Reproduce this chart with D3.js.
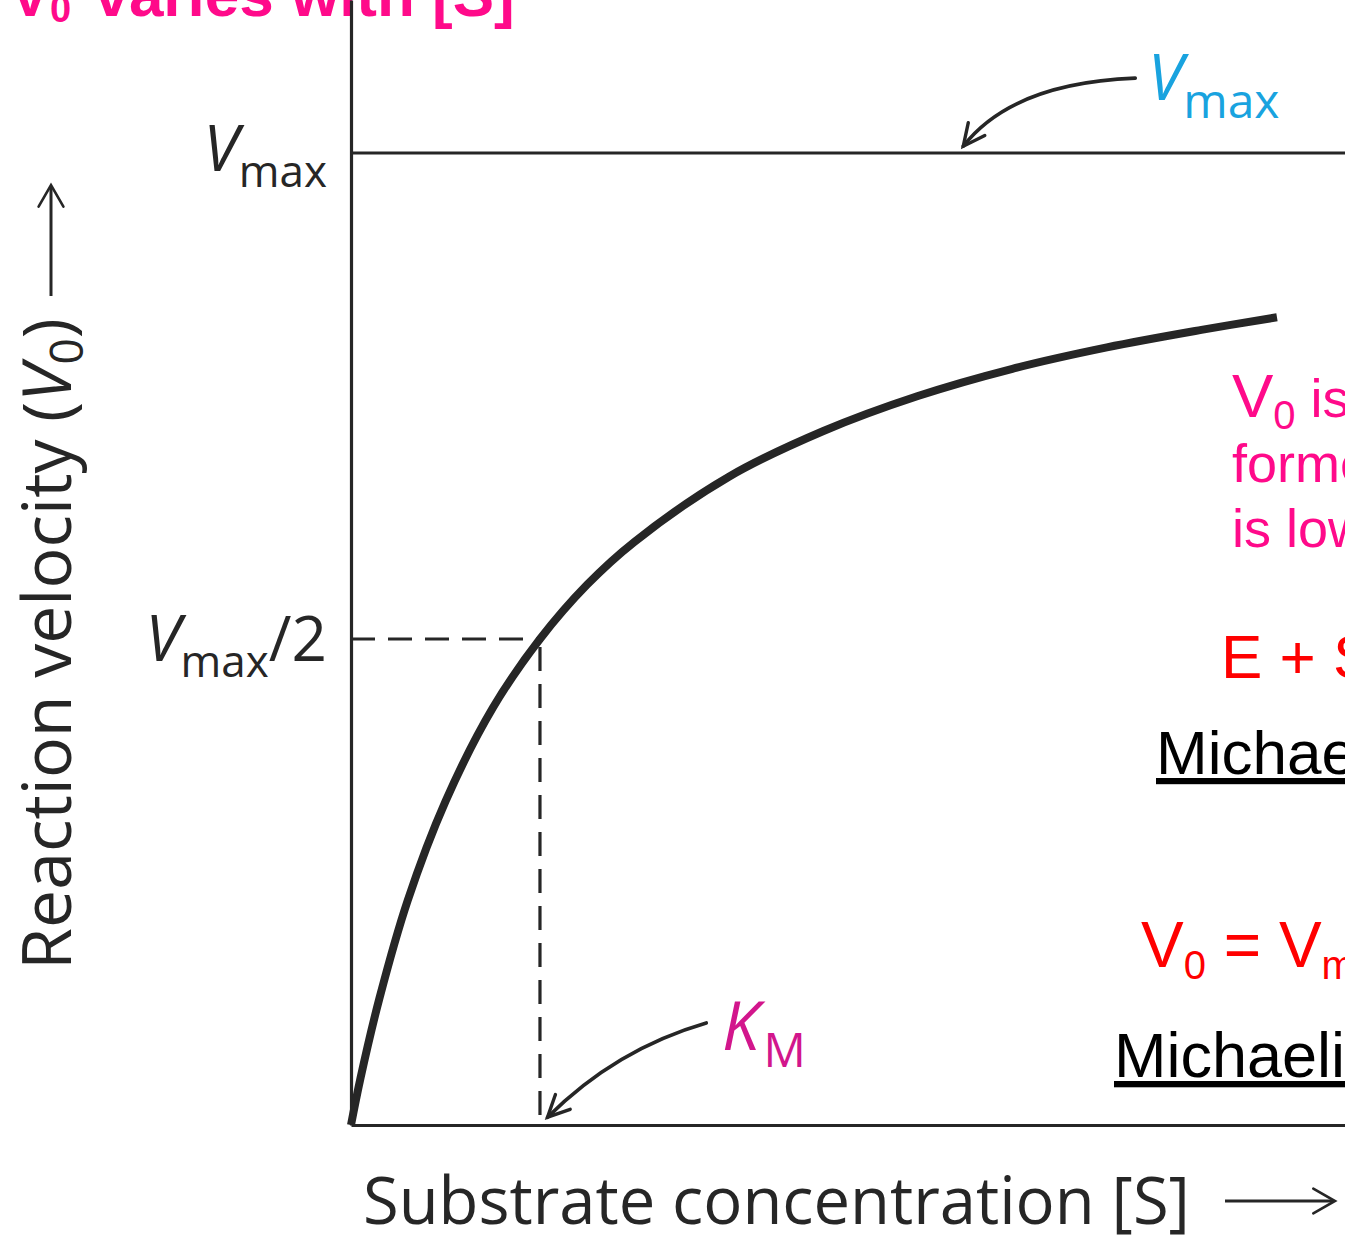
<!DOCTYPE html>
<html>
<head>
<meta charset="utf-8">
<script src="https://cdn.jsdelivr.net/npm/d3@7"></script>
<style>
  html, body { margin: 0; padding: 0; background: #ffffff; }
  svg { display: block; }
</style>
</head>
<body>
<svg id="chart" width="1345" height="1239"></svg>
<script>
// ---------------- data ----------------
// substrate concentration in units of KM, velocity in units of Vmax
const substrate = [0, 0.05, 0.15, 0.3, 0.5, 0.75, 1.0, 1.25, 1.5, 2.0, 2.5, 3.0, 3.5, 4.0, 4.5, 4.9];
const velocity  = [0, 0.048, 0.13, 0.231, 0.333, 0.429, 0.50, 0.556, 0.60, 0.667, 0.714, 0.75, 0.778, 0.80, 0.818, 0.831];
const VMAX = 1.0;
const KM = 1.0;
const S_MAX = 5.26;          // right end of the visible [S] axis
const yTickValues = [VMAX, VMAX / 2];
const yTickLabels = ["Vmax", "Vmax/2"];
// annotation arrows in data units: [start, control, tip]
const vmaxArrow = [[4.15, 1.077], [3.50, 1.072], [3.24, 1.007]];
const kmArrow   = [[1.88, 0.105], [1.40, 0.078], [1.04, 0.008]];

const titleText = "V0 varies with [S]";
const xLabelText = "Substrate concentration [S]";
const yLabelText = "Reaction velocity (V0)";

// ---------------- setup ----------------
const W = 1345, H = 1239;
const svg = d3.select("#chart");
const HUMAN = "'Open Sans', 'Noto Sans', sans-serif";
const ARIAL = "'Liberation Sans', Arial, sans-serif";
const INK = "#262626";
const PINK = "#ff0a8a";
const MAGENTA = "#d2168c";
const BLUE = "#19a3df";
const RED = "#ff0000";

const x = d3.scaleLinear().domain([0, S_MAX]).range([351, W]);
const y = d3.scaleLinear().domain([0, VMAX]).range([1125, 153]);
const yTop = y.invert(0);

// rich text helper: parts = [{t, size, off, italic, bold, fill}]
function richText(parent, opts, parts) {
  const t = parent.append("text")
    .attr("x", opts.x).attr("y", opts.y)
    .attr("text-anchor", opts.anchor || "start")
    .attr("font-family", opts.family || HUMAN)
    .attr("fill", opts.fill || INK);
  if (opts.transform) t.attr("transform", opts.transform);
  if (opts.decoration) t.attr("text-decoration", opts.decoration);
  let cur = 0;
  parts.forEach(p => {
    const off = p.off || 0;
    const ts = t.append("tspan")
      .attr("font-size", p.size)
      .attr("dy", off - cur)
      .text(p.t);
    if (p.dx) ts.attr("dx", p.dx);
    if (p.italic) ts.attr("font-style", "italic");
    if (p.bold) ts.attr("font-weight", "bold");
    if (p.fill) ts.attr("fill", p.fill);
    cur = off;
  });
  return t;
}

function fitWidth(textSel, target) {
  const len = textSel.node().getComputedTextLength();
  const k = target / len;
  textSel.selectAll("tspan").each(function () {
    const s = d3.select(this);
    s.attr("font-size", +s.attr("font-size") * k);
    s.attr("dy", +s.attr("dy") * k);
  });
}

function arrowHead(g, tip, from, len, half, color, width) {
  const ang = Math.atan2(from[1] - tip[1], from[0] - tip[0]);
  const a1 = ang + half, a2 = ang - half;
  const p = d3.path();
  p.moveTo(tip[0] + len * Math.cos(a1), tip[1] + len * Math.sin(a1));
  p.lineTo(tip[0], tip[1]);
  p.lineTo(tip[0] + len * Math.cos(a2), tip[1] + len * Math.sin(a2));
  g.append("path").attr("d", p.toString()).attr("fill", "none")
    .attr("stroke", color).attr("stroke-width", width)
    .attr("stroke-linejoin", "miter").attr("stroke-linecap", "round");
}

function curvedArrow(g, pts) {
  const [s, c, e] = pts.map(d => [x(d[0]), y(d[1])]);
  const p = d3.path();
  p.moveTo(s[0], s[1]);
  p.quadraticCurveTo(c[0], c[1], e[0], e[1]);
  g.append("path").attr("d", p.toString()).attr("fill", "none")
    .attr("stroke", INK).attr("stroke-width", 3.6).attr("stroke-linecap", "round");
  arrowHead(g, e, c, 24, 0.45, INK, 3.4);
}

// ---------------- title (cut off at top) ----------------
richText(svg, { x: 10, y: 16, family: ARIAL, fill: PINK }, [
  { t: "V", size: 60, bold: true },
  { t: "0", size: 38, bold: true, off: 6 },
  { t: " varies with [S]", size: 62, bold: true, off: 0, dx: 6 }
]);

// ---------------- axes ----------------
svg.append("g")
  .attr("transform", `translate(0,${y(0)})`)
  .call(d3.axisBottom(x).tickValues([]).tickSizeOuter(0))
  .call(g => g.select(".domain").attr("stroke", INK).attr("stroke-width", 3.2));

const yAxisScale = y.copy().domain([0, yTop]).range([y(0), 0]);
svg.append("g")
  .attr("transform", `translate(${x(0)},0)`)
  .call(d3.axisLeft(yAxisScale).tickValues([]).tickSizeOuter(0))
  .call(g => g.select(".domain").attr("stroke", INK).attr("stroke-width", 3.2));

// Vmax asymptote
svg.append("line")
  .attr("x1", x(0)).attr("x2", x(S_MAX))
  .attr("y1", y(VMAX)).attr("y2", y(VMAX))
  .attr("stroke", INK).attr("stroke-width", 3.2);

// dashed guides at Vmax/2 and KM
svg.append("line")
  .attr("x1", x(0)).attr("x2", x(KM))
  .attr("y1", y(VMAX / 2)).attr("y2", y(VMAX / 2))
  .attr("stroke", INK).attr("stroke-width", 3.2)
  .attr("stroke-dasharray", "24,13");
svg.append("line")
  .attr("x1", x(KM)).attr("x2", x(KM))
  .attr("y1", y(VMAX / 2) + 8).attr("y2", y(0))
  .attr("stroke", INK).attr("stroke-width", 3.2)
  .attr("stroke-dasharray", "24,13");

// ---------------- curve ----------------
const pts = substrate.map((s, i) => [s, velocity[i]]);
svg.append("path")
  .datum(pts)
  .attr("d", d3.line().x(d => x(d[0])).y(d => y(d[1])).curve(d3.curveCatmullRom.alpha(0.5)))
  .attr("fill", "none")
  .attr("stroke", INK)
  .attr("stroke-width", 8)
  .attr("stroke-linecap", "butt");

// ---------------- y tick labels ----------------
yTickValues.forEach((v, i) => {
  const lab = yTickLabels[i];
  const parts = [
    { t: "V", size: 64, italic: true },
    { t: "max", size: 44, off: 16 }
  ];
  if (lab.endsWith("/2")) parts.push({ t: "/2", size: 62, off: 0 });
  richText(svg, { x: x(0) - 24, y: y(v) + 18 + (i === 1 ? 4 : 0), anchor: "end" }, parts);
});

// ---------------- axis labels ----------------
const xl = richText(svg, { x: 363, y: 1224 }, [{ t: xLabelText, size: 66 }]);
fitWidth(xl, 827);
(function () {
  const g = svg.append("g");
  g.append("line").attr("x1", 1225).attr("x2", 1334).attr("y1", 1201).attr("y2", 1201)
    .attr("stroke", INK).attr("stroke-width", 3);
  arrowHead(g, [1335, 1201], [1300, 1201], 25, 0.52, INK, 2.6);
})();

const yl = richText(svg, { x: 0, y: 0, transform: "translate(71,970) rotate(-90)" }, [
  { t: "Reaction velocity (", size: 68 },
  { t: "V", size: 68, italic: true },
  { t: "0", size: 46, off: 12 },
  { t: ")", size: 68, off: 0 }
]);
fitWidth(yl, 652);
(function () {
  const g = svg.append("g");
  g.append("line").attr("x1", 51).attr("x2", 51).attr("y1", 296).attr("y2", 186)
    .attr("stroke", INK).attr("stroke-width", 3);
  arrowHead(g, [51, 185], [51, 220], 25, 0.52, INK, 2.6);
})();

// ---------------- annotations ----------------
curvedArrow(svg.append("g"), vmaxArrow);
richText(svg, { x: 1148, y: 100, fill: BLUE }, [
  { t: "V", size: 64, italic: true },
  { t: "max", size: 48, off: 18 }
]);

curvedArrow(svg.append("g"), kmArrow);
richText(svg, { x: 722, y: 1050, fill: MAGENTA }, [
  { t: "K", size: 67, italic: true },
  { t: "M", size: 47, off: 17, dx: 4 }
]);

// ---------------- right-hand notes (cut off at the edge) ----------------
richText(svg, { x: 1232, y: 417, family: ARIAL, fill: PINK }, [
  { t: "V", size: 62 },
  { t: "0", size: 40, off: 12 },
  { t: " is the rate of product", size: 54, off: 0 }
]);
richText(svg, { x: 1232, y: 482, family: ARIAL, fill: PINK }, [{ t: "formed when [S]", size: 54 }]);
richText(svg, { x: 1232, y: 547, family: ARIAL, fill: PINK }, [{ t: "is low", size: 54 }]);

richText(svg, { x: 1221, y: 678, family: ARIAL, fill: RED }, [{ t: "E + S ⇌ ES → E + P", size: 62 }]);

richText(svg, { x: 1156, y: 774, family: ARIAL, fill: "#000", decoration: "underline" },
  [{ t: "Michaelis-Menten Model", size: 62 }]);

richText(svg, { x: 1141, y: 967, family: ARIAL, fill: RED }, [
  { t: "V", size: 64 },
  { t: "0", size: 40, off: 12 },
  { t: " = V", size: 64, off: 0 },
  { t: "max", size: 40, off: 12 },
  { t: " [S] / (K", size: 64, off: 0 },
  { t: "M", size: 40, off: 12 },
  { t: " + [S])", size: 64, off: 0 }
]);

richText(svg, { x: 1114, y: 1077, family: ARIAL, fill: "#000", decoration: "underline" },
  [{ t: "Michaelis-Menten equation", size: 63 }]);
</script>
</body>
</html>
